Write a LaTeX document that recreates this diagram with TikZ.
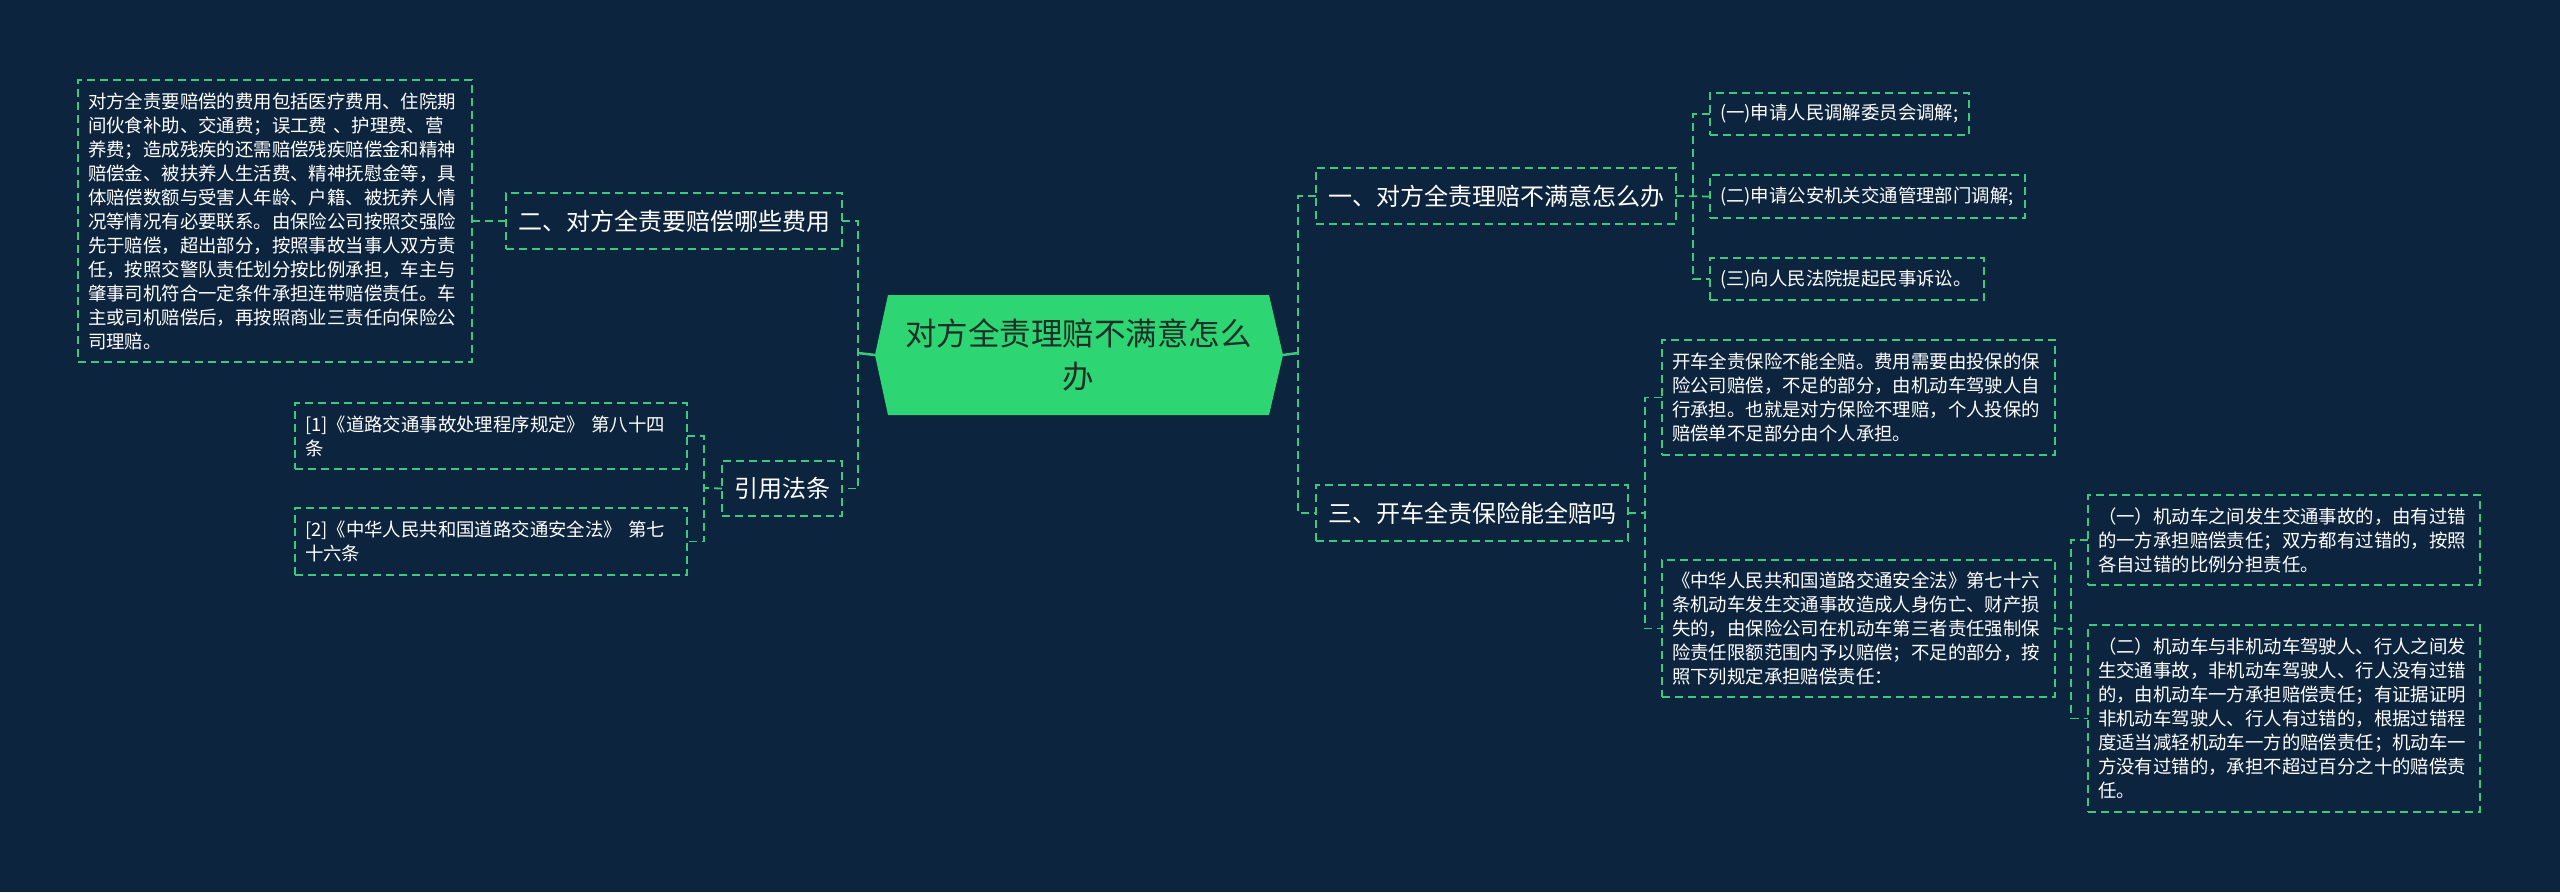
\documentclass[tikz,border=0pt]{standalone}
\usepackage{fontspec}
\setmainfont{Noto Sans CJK SC}
\usetikzlibrary{calc}
\pgfdeclarelayer{bg}
\pgfsetlayers{bg,main}
\definecolor{bgc}{RGB}{13,36,62}
\definecolor{lc}{RGB}{60,200,125}
\definecolor{rootc}{RGB}{46,213,115}
\definecolor{roottxt}{RGB}{28,48,40}
\setlength\parindent{0pt}
\newcommand\fsz[2]{\fontsize{#1pt}{#2pt}\selectfont}
\begin{document}
\begin{tikzpicture}[x=1pt,y=-1pt,
  box/.style={draw=lc, line width=1.8pt, dash pattern=on 8pt off 5pt, text=white, inner ysep=0pt, outer sep=0pt, anchor=north west},
  topic/.style={box, font=\fsz{24}{30}, inner xsep=0pt, align=center},
  leaf/.style={box, font=\fsz{18.4}{24}, inner xsep=10pt, align=left},
  dconn/.style={draw=lc, line width=1.8pt, dash pattern=on 8pt off 5pt},
  sconn/.style={draw=lc, line width=2.5pt}]
\useasboundingbox (0,0) rectangle (2560,892);
\begin{pgfonlayer}{bg}\fill[bgc] (0,0) rectangle (2560,892);\end{pgfonlayer}

% root
\node[minimum width=381pt, minimum height=120pt, inner sep=0pt, outer sep=0pt, text=roottxt, font=\fsz{31.5}{43}, align=center] (root) at (1078.5,355) {对方全责理赔不满意怎么\\办};
\begin{pgfonlayer}{bg}
\fill[rootc] (root.north west) -- (root.north east) -- ($(root.east)+(14,0)$) -- (root.south east) -- (root.south west) -- ($(root.west)+(-13,0)$) -- cycle;
\end{pgfonlayer}

% left side
\node[topic, minimum width=336pt, minimum height=56pt] (B2) at (506,193) {二、对方全责要赔偿哪些费用};
\node[topic, minimum width=120pt, minimum height=55pt] (B3) at (722,461) {引用法条};
\node[leaf, text width=374pt, minimum height=282pt] (L1) at (78,80) {对方全责要赔偿的费用包括医疗费用、住院期\\间伙食补助、交通费；误工费 、护理费、营\\养费；造成残疾的还需赔偿残疾赔偿金和精神\\赔偿金、被扶养人生活费、精神抚慰金等，具\\体赔偿数额与受害人年龄、户籍、被抚养人情\\况等情况有必要联系。由保险公司按照交强险\\先于赔偿，超出部分，按照事故当事人双方责\\任，按照交警队责任划分按比例承担，车主与\\肇事司机符合一定条件承担连带赔偿责任。车\\主或司机赔偿后，再按照商业三责任向保险公\\司理赔。};
\node[leaf, text width=372pt, minimum height=66pt] (Ref1) at (295,403) {[1]《道路交通事故处理程序规定》 第八十四\\条};
\node[leaf, text width=372pt, minimum height=67pt] (Ref2) at (295,508) {[2]《中华人民共和国道路交通安全法》 第七\\十六条};

% right side
\node[topic, minimum width=360pt, minimum height=56pt] (R1) at (1316,168) {一、对方全责理赔不满意怎么办};
\node[topic, minimum width=312pt, minimum height=56pt] (R3) at (1316,485) {三、开车全责保险能全赔吗};
\node[leaf, text width=239pt, minimum height=42pt] (C11) at (1710,93) {(一)申请人民调解委员会调解;};
\node[leaf, text width=295pt, minimum height=43pt] (C12) at (1710,175) {(二)申请公安机关交通管理部门调解;};
\node[leaf, text width=254pt, minimum height=42pt] (C13) at (1710,258) {(三)向人民法院提起民事诉讼。};
\node[leaf, text width=373pt, minimum height=115pt] (pA) at (1662,340) {开车全责保险不能全赔。费用需要由投保的保\\险公司赔偿，不足的部分，由机动车驾驶人自\\行承担。也就是对方保险不理赔，个人投保的\\赔偿单不足部分由个人承担。};
\node[leaf, text width=373pt, minimum height=137pt] (pB) at (1662,560) {《中华人民共和国道路交通安全法》第七十六\\条机动车发生交通事故造成人身伤亡、财产损\\失的，由保险公司在机动车第三者责任强制保\\险责任限额范围内予以赔偿；不足的部分，按\\照下列规定承担赔偿责任：};
\node[leaf, text width=372pt, minimum height=90pt] (pC1) at (2088,495) {（一）机动车之间发生交通事故的，由有过错\\的一方承担赔偿责任；双方都有过错的，按照\\各自过错的比例分担责任。};
\node[leaf, text width=372pt, minimum height=187pt] (pC2) at (2088,625) {（二）机动车与非机动车驾驶人、行人之间发\\生交通事故，非机动车驾驶人、行人没有过错\\的，由机动车一方承担赔偿责任；有证据证明\\非机动车驾驶人、行人有过错的，根据过错程\\度适当减轻机动车一方的赔偿责任；机动车一\\方没有过错的，承担不超过百分之十的赔偿责\\任。};

% connectors
\coordinate (tipL) at ($(root.west)+(-13,0)$);
\coordinate (tipR) at ($(root.east)+(14,0)$);
\coordinate (lx) at (858,353);
\coordinate (rx) at (1298,353);
\draw[sconn] (tipL) -- (lx);
\draw[sconn] (tipR) -- (rx);
\draw[dconn] (B2.east) -| (lx) |- (B3.east);
\draw[dconn] (R1.west) -| (rx) |- (R3.west);
\draw[dconn] (L1.east) -- (B2.west);
\coordinate (b3x) at (704,488);
\draw[dconn] (B3.west) -- (b3x);
\draw[dconn] (Ref1.east) -| (b3x) |- (Ref2.east);
\coordinate (r1x) at (1693,196);
\draw[dconn] (R1.east) -- (C12.west);
\draw[dconn] (C11.west) -| (r1x) |- (C13.west);
\coordinate (r3x) at (1645,513);
\draw[dconn] (R3.east) -- (r3x);
\draw[dconn] (pA.west) -| (r3x) |- (pB.west);
\coordinate (bx) at (2071,629);
\draw[dconn] (pB.east) -- (bx);
\draw[dconn] (pC1.west) -| (bx) |- (pC2.west);
\end{tikzpicture}
\end{document}
